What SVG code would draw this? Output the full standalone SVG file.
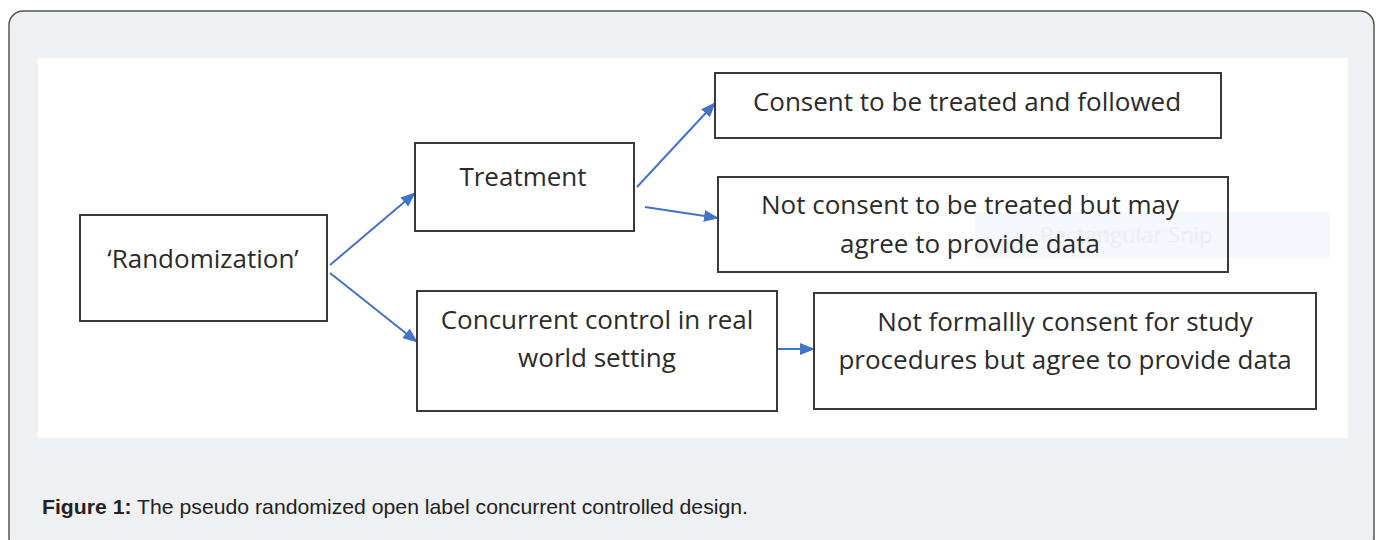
<svg xmlns="http://www.w3.org/2000/svg" width="1380" height="540" viewBox="0 0 1380 540">
<style>
.box{fill:#fff;stroke:#3a3a3a;stroke-width:2}
.t{font-family:"Open Sans","Noto Sans",sans-serif;font-size:26px;fill:#2b2b2b;text-anchor:middle}
.c{stroke:#4472c4;stroke-width:2;fill:none;marker-end:url(#ah)}
.cap{font-family:"Liberation Sans",Arial,sans-serif;font-size:21px;fill:#222}
</style>
<defs>
<marker id="ah" markerWidth="15" markerHeight="12" refX="14" refY="6" orient="auto" markerUnits="userSpaceOnUse" viewBox="0 0 15 12">
<path d="M0,0 L15,6 L0,12 z" fill="#4472c4"/>
</marker>
</defs>
<rect x="9" y="11" width="1365" height="540" rx="14" fill="#eff0f2" stroke="#555" stroke-width="1.5"/>
<rect x="38" y="58" width="1310" height="380" fill="#fff"/>
<g id="connectors">
<line class="c" x1="330" y1="265" x2="415" y2="193"/>
<line class="c" x1="330" y1="273" x2="417" y2="342"/>
<line class="c" x1="637" y1="187" x2="715" y2="103"/>
<line class="c" x1="645" y1="207" x2="718" y2="218"/>
<line class="c" x1="777" y1="349" x2="814" y2="349"/>
</g>
<g id="randomization">
<rect class="box" x="80" y="215" width="247" height="106"/>
<text class="t" x="203" y="268">‘Randomization’</text>
</g>
<g id="treatment">
<rect class="box" x="415" y="143" width="219" height="88"/>
<text class="t" x="523" y="186">Treatment</text>
</g>
<g id="consent">
<rect class="box" x="715" y="73" width="506" height="65"/>
<text class="t" x="967" y="111">Consent to be treated and followed</text>
</g>
<g id="notconsent">
<rect class="box" x="718" y="177" width="510" height="95"/>
<rect x="975" y="212" width="252" height="46" fill="#f4f7fc"/>
<text x="1040" y="243" font-family="Open Sans,sans-serif" font-size="22" fill="#eceff4">Rectangular Snip</text>
<text class="t" x="970" y="214">Not consent to be treated but may</text>
<text class="t" x="970" y="253">agree to provide data</text>
</g>
<g id="watermark">
<rect x="1229" y="212" width="101" height="46" fill="#f4f7fc"/>
</g>
<g id="notformal">
<rect class="box" x="814" y="293" width="502" height="116"/>
<text class="t" x="1065" y="331">Not formallly consent for study</text>
<text class="t" x="1065" y="369">procedures but agree to provide data</text>
</g>
<g id="control">
<rect class="box" x="417" y="291" width="360" height="120"/>
<text class="t" x="597" y="329">Concurrent control in real</text>
<text class="t" x="597" y="367">world setting</text>
</g>
<text class="cap" x="42" y="514" textLength="706" lengthAdjust="spacingAndGlyphs"><tspan font-weight="bold">Figure 1:</tspan> The pseudo randomized open label concurrent controlled design.</text>
</svg>
